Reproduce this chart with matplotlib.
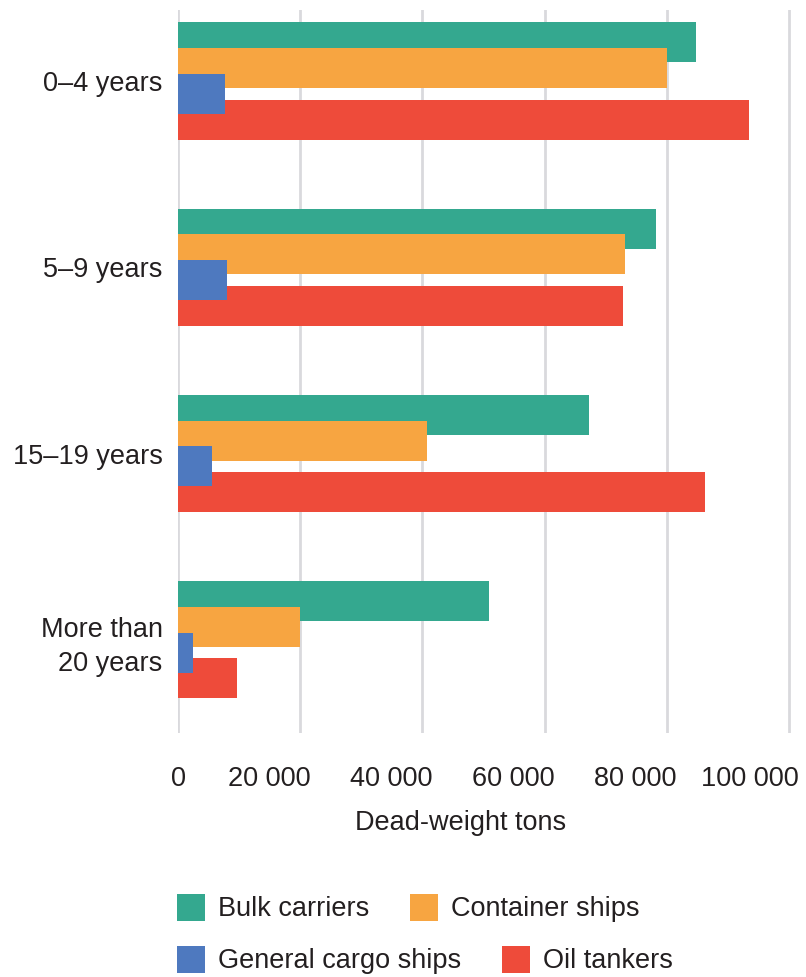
import numpy as np
import matplotlib
matplotlib.use("Agg")
import matplotlib.pyplot as plt
from matplotlib.transforms import ScaledTranslation

plt.rcParams['font.family'] = ['Liberation Sans', 'DejaVu Sans']

groups = ["0\u20134 years", "5\u20139 years", "15\u201319 years", "More than\n20 years"]
series = ["Bulk carriers", "Container ships", "General cargo ships", "Oil tankers"]
bulk = [84800, 78300, 67200, 50900]
container = [80100, 73100, 40800, 19900]
general = [7700, 8000, 5600, 2500]
oil = [93500, 72900, 86300, 9600]
colors = ["#34a88f", "#f7a541", "#4e79bf", "#ee4b3a"]
xticks = [0, 20000, 40000, 60000, 80000, 100000]
xticklabels = ["0", "20 000", "40 000", "60 000", "80 000", "100 000"]

txt = "#231f20"
fs = 19.5

fig = plt.figure(figsize=(8.06, 9.77), dpi=100)
ax = fig.add_axes([178 / 806, 1 - 733 / 977, 617 / 806, 723 / 977])

y = np.arange(len(groups))
h = 0.215
step = 0.138
zorders = [2, 3, 5, 4]
bars = []
for i, vals in enumerate([bulk, container, general, oil]):
    b = ax.barh(y + (i - 1.5) * step, vals, height=h, color=colors[i],
                zorder=zorders[i], label=series[i], linewidth=0)
    bars.append(b)

ax.set_xlim(0, 101000)
ax.set_ylim(3.5, -0.381)
ax.set_xticks(xticks)
ax.set_xticklabels(xticklabels, fontsize=fs, color=txt)
ax.set_yticks(y)
ax.set_yticklabels(groups, fontsize=fs, color=txt, linespacing=1.4)
ax.tick_params(axis='x', length=0, pad=24)
ax.tick_params(axis='y', length=0, pad=11)
for s in ax.spines.values():
    s.set_visible(False)
ax.grid(axis='x', color='#d9d9dd', linewidth=2, zorder=0)
ax.set_axisbelow(True)

# tick labels in the original sit left of their gridline (right edge just past it)
shift = ScaledTranslation(10 / 100, 0, fig.dpi_scale_trans)
for lab in ax.get_xticklabels()[1:]:
    lab.set_ha('right')
    lab.set_transform(lab.get_transform() + shift)

ax.set_xlabel("Dead-weight tons", fontsize=fs, color=txt)
ax.xaxis.set_label_coords((461 - 178) / 617, -(823 - 733) / 723)
ax.xaxis.label.set_va('center')

kw = dict(loc='center left', frameon=False, ncol=2, fontsize=fs,
          borderpad=0, borderaxespad=0, handlelength=1.05, handleheight=1.15,
          handletextpad=0.47, columnspacing=1.5, labelcolor=txt)
leg1 = fig.legend(handles=[bars[0], bars[1]], bbox_to_anchor=(177 / 806, 1 - 908 / 977), **kw)
leg2 = fig.legend(handles=[bars[2], bars[3]], bbox_to_anchor=(177 / 806, 1 - 960 / 977), **kw)

fig.savefig("out.png", dpi=100)
